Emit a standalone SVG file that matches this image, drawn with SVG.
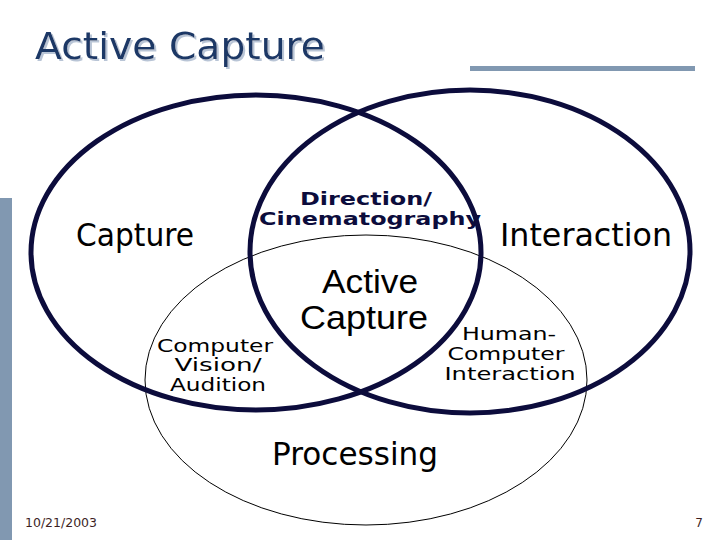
<svg xmlns="http://www.w3.org/2000/svg" width="720" height="540" viewBox="0 0 720 540">
<defs>
<filter id="shadow" x="-5%" y="-20%" width="110%" height="150%">
<feDropShadow dx="2" dy="2" stdDeviation="0" flood-color="#b9c5d6" flood-opacity="1"/>
</filter>
</defs>
<style>
.bar{fill:#8198B1}
.thick{fill:none;stroke:#0c0c3c;stroke-width:5}
.thin{fill:none;stroke:#000;stroke-width:1}
.t{font-family:"DejaVu Sans",Verdana,sans-serif;fill:#000}
.a{font-family:"Liberation Sans",Arial,sans-serif;fill:#000}
.b{font-family:"DejaVu Sans",Verdana,sans-serif;font-weight:bold;fill:#0c0c3c}
.ft{font-family:"DejaVu Sans",Verdana,sans-serif;font-size:12px;fill:#3d1f1f}
</style>
<rect width="720" height="540" fill="#fff"/>
<g id="header">
<text x="35" y="59" font-family="DejaVu Sans,Verdana,sans-serif" font-size="38" fill="#1c3766" filter="url(#shadow)" textLength="290" lengthAdjust="spacingAndGlyphs">Active Capture</text>
<rect class="bar" x="470" y="66" width="225" height="5"/>
<rect class="bar" x="0" y="198" width="12" height="342"/>
</g>
<g id="connectors">
<ellipse id="processing-circle" class="thin" cx="366" cy="380" rx="221" ry="145"/>
<ellipse id="capture-circle" class="thick" cx="256" cy="252.5" rx="225" ry="157.5"/>
<ellipse id="interaction-circle" class="thick" cx="470" cy="251.5" rx="220" ry="161.5"/>
</g>
<g id="node-capture">
<text class="t" x="76" y="246" font-size="32" textLength="118" lengthAdjust="spacingAndGlyphs">Capture</text>
</g>
<g id="node-interaction">
<text class="t" x="500" y="246" font-size="32" textLength="172" lengthAdjust="spacingAndGlyphs">Interaction</text>
</g>
<g id="node-direction">
<text class="b" x="366" y="205" font-size="17" text-anchor="middle" textLength="132" lengthAdjust="spacingAndGlyphs">Direction/</text>
<text class="b" x="370" y="225" font-size="17" text-anchor="middle" textLength="222" lengthAdjust="spacingAndGlyphs">Cinematography</text>
</g>
<g id="node-active-capture">
<text class="a" x="370" y="293" font-size="34" text-anchor="middle" textLength="96" lengthAdjust="spacingAndGlyphs">Active</text>
<text class="a" x="364" y="329" font-size="34" text-anchor="middle" textLength="128" lengthAdjust="spacingAndGlyphs">Capture</text>
</g>
<g id="node-computer-vision">
<text class="t" x="215" y="352" font-size="18" text-anchor="middle" textLength="116" lengthAdjust="spacingAndGlyphs">Computer</text>
<text class="t" x="218" y="371" font-size="18" text-anchor="middle" textLength="87" lengthAdjust="spacingAndGlyphs">Vision/</text>
<text class="t" x="218" y="391" font-size="18" text-anchor="middle" textLength="96" lengthAdjust="spacingAndGlyphs">Audition</text>
</g>
<g id="node-hci">
<text class="t" x="509" y="340" font-size="18" text-anchor="middle" textLength="94" lengthAdjust="spacingAndGlyphs">Human-</text>
<text class="t" x="506" y="360" font-size="18" text-anchor="middle" textLength="117" lengthAdjust="spacingAndGlyphs">Computer</text>
<text class="t" x="510" y="380" font-size="18" text-anchor="middle" textLength="131" lengthAdjust="spacingAndGlyphs">Interaction</text>
</g>
<g id="node-processing">
<text class="t" x="355" y="465" font-size="32" text-anchor="middle" textLength="166" lengthAdjust="spacingAndGlyphs">Processing</text>
</g>
<g id="footer">
<text class="ft" x="25" y="527" textLength="72" lengthAdjust="spacingAndGlyphs">10/21/2003</text>
<text class="ft" x="703" y="527" text-anchor="end">7</text>
</g>
</svg>
